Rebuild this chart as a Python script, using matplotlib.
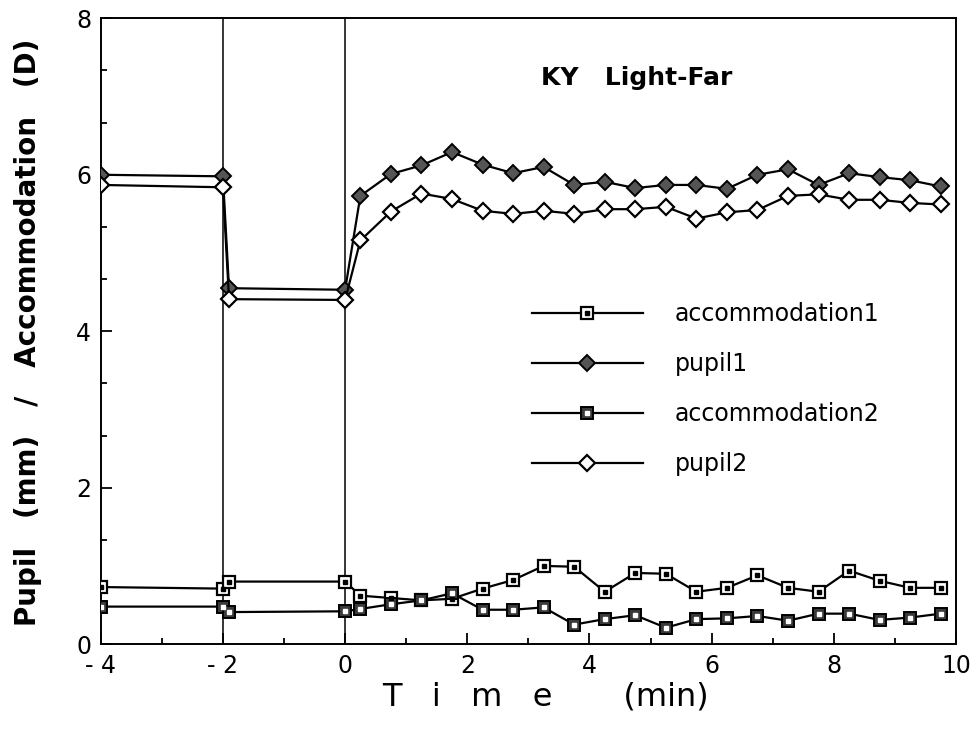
import matplotlib
matplotlib.use("Agg")
import matplotlib.pyplot as plt
from matplotlib.legend_handler import HandlerTuple
from matplotlib.ticker import MultipleLocator

# time axis (min): baseline, step at -2, then half-minute samples after 0
time = [-4, -2, -1.9, 0,
        0.25, 0.75, 1.25, 1.75, 2.25, 2.75, 3.25, 3.75, 4.25, 4.75,
        5.25, 5.75, 6.25, 6.75, 7.25, 7.75, 8.25, 8.75, 9.25, 9.75]

accommodation1 = [0.73, 0.71, 0.80, 0.80,
                  0.62, 0.59, 0.56, 0.58, 0.71, 0.82, 1.00, 0.99, 0.67, 0.91,
                  0.90, 0.67, 0.72, 0.88, 0.72, 0.67, 0.94, 0.81, 0.72, 0.72]

pupil1 = [6.00, 5.98, 4.55, 4.53,
          5.73, 6.01, 6.12, 6.29, 6.13, 6.02, 6.10, 5.87, 5.91, 5.83,
          5.87, 5.87, 5.82, 6.00, 6.07, 5.87, 6.02, 5.97, 5.93, 5.85]

accommodation2 = [0.48, 0.48, 0.41, 0.42,
                  0.45, 0.51, 0.56, 0.65, 0.44, 0.44, 0.47, 0.25, 0.32, 0.37,
                  0.21, 0.32, 0.33, 0.36, 0.30, 0.39, 0.39, 0.31, 0.34, 0.39]

pupil2 = [5.87, 5.84, 4.41, 4.40,
          5.16, 5.53, 5.76, 5.69, 5.54, 5.50, 5.54, 5.50, 5.56, 5.56,
          5.59, 5.44, 5.52, 5.55, 5.73, 5.75, 5.68, 5.68, 5.64, 5.62]

series_labels = ["accommodation1", "pupil1", "accommodation2", "pupil2"]
x_ticks = [-4, -2, 0, 2, 4, 6, 8, 10]
x_tick_labels = ["- 4", "- 2", "0", "2", "4", "6", "8", "10"]
condition = "KY   Light-Far"
event_times = [-2, 0]

plt.rcParams["font.family"] = ["DejaVu Sans"]

fig = plt.figure(figsize=(9.78, 7.32), dpi=100)
ax = fig.add_axes([0.103, 0.12, 0.8745, 0.855])

lw = 1.6
ms = 9
grey = "#555555"
dark = "#3a3a3a"

for t in event_times:
    ax.axvline(t, color="black", lw=1.1, zorder=1)

# accommodation 1: open square with centre dot
a1, = ax.plot(time, accommodation1, color="black", lw=lw, marker="s", ms=ms,
              mfc="white", mec="black", mew=1.6, zorder=3)
a1d, = ax.plot(time, accommodation1, ls="none", marker="s", ms=2.2,
               mfc="black", mec="black", zorder=4)
# pupil 1: filled grey diamond
p1, = ax.plot(time, pupil1, color="black", lw=lw, marker="D", ms=ms - 1,
              mfc=grey, mec="black", mew=1.4, zorder=3)
# accommodation 2: filled square with light centre dot
a2, = ax.plot(time, accommodation2, color="black", lw=lw, marker="s", ms=ms,
              mfc=dark, mec="black", mew=1.4, zorder=3)
a2d, = ax.plot(time, accommodation2, ls="none", marker="s", ms=2.2,
               mfc="white", mec="white", zorder=4)
# pupil 2: open diamond
p2, = ax.plot(time, pupil2, color="black", lw=lw, marker="D", ms=ms - 1,
              mfc="white", mec="black", mew=1.6, zorder=3)

ax.set_xlim(-4, 10)
ax.set_ylim(0, 8)
ax.set_xticks(x_ticks)
ax.set_xticklabels(x_tick_labels)
ax.xaxis.set_minor_locator(MultipleLocator(1))
ax.yaxis.set_major_locator(MultipleLocator(2))
ax.yaxis.set_minor_locator(MultipleLocator(2 / 3))
ax.tick_params(which="both", direction="in", top=False, right=False,
               width=1.3, labelsize=17, pad=7)
ax.tick_params(which="major", length=8)
ax.tick_params(which="minor", length=4.5)
for sp in ax.spines.values():
    sp.set_linewidth(1.4)

ax.text(0.627, 0.905, condition, transform=ax.transAxes, ha="center",
        va="center", fontsize=18, fontweight="bold")

leg = ax.legend([(a1, a1d), p1, (a2, a2d), p2], series_labels,
                handler_map={tuple: HandlerTuple(ndivide=1)},
                loc="center left", bbox_to_anchor=(0.504, 0.407),
                frameon=False, fontsize=17, handlelength=4.7,
                handletextpad=1.35, labelspacing=1.1, borderpad=0,
                borderaxespad=0)

fig.text(0.558, 0.048, "T   i   m   e       (min)", ha="center",
         va="center", fontsize=23)
fig.text(0.029, 0.546, "Pupil   (mm)   /   Accommodation   (D)",
         ha="center", va="center", rotation=90, fontsize=20,
         fontweight="bold")

fig.savefig("out.png", dpi=100)
